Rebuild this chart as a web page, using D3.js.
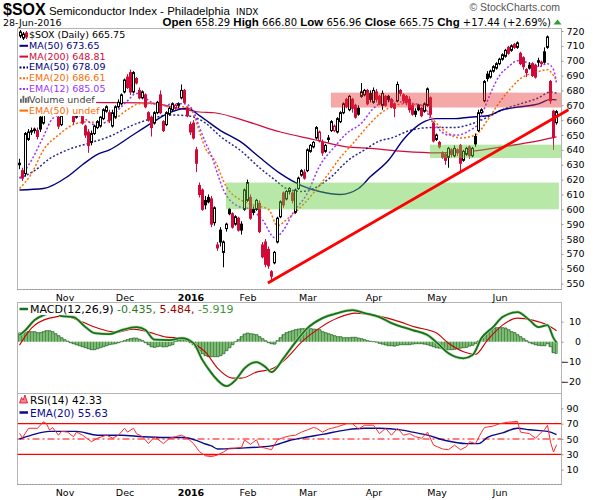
<!DOCTYPE html>
<html>
<head>
<meta charset="utf-8">
<script src="https://cdn.jsdelivr.net/npm/d3@7"></script>
<style>
  body { margin: 0; background: #fff; }
  svg text { font-family: "DejaVu Sans", Verdana, sans-serif; font-size: 9.5px; }
</style>
</head>
<body>
<svg id="chart" width="600" height="500"></svg>
<script>
// ---- data (trading day index 0 = 12-Oct-2015, 179 = 28-Jun-2016) ----
const open = [631,626,624,647,652,653,653,662,658,668, 671,667,671,662,657,666,670,668,663,662,
  668,663,656,652,645,651,655,656,661,666, 665,656,662,669,671,679,689,692,679,688,
  680,675,677,665,662,658,665,677,659,657, 664,667,668,670,675,680,668,657,658,640,
  616,613,606,608,607,591,576,586,571,587, 600,597,590,594,590,600,606,608,600,600,
  604,576,578,573,558,564,578,595,611,607, 612,611,598,614,623,625,626,639,642,648,
  646,645,639,648,653,653,652,659,665,674, 667,674,670,668,676,677,680,678,672,679,
  676,670,676,676,674,671,673,680,677,676, 674,670,666,670,668,666,670,675,658,647,
  645,638,637,635,640,636,640,643,633,637, 642,636,649,653,665,673,691,689,693,695,
  698,701,703,709,707,711,709,705,702,694, 697,698,697,700,699,706,709,686,666,658.29];
const high = [634,628,652,654,655,655,655,664,670,674, 673,674,673,666,665,672,674,671,665,670,
  672,665,657,654,653,657,660,663,668,670, 667,667,670,674,678,688,691,694,693,689,
  682,680,678,666,663,666,673,680,660,666, 669,672,671,672,684,681,669,659,660,642,
  618,614,609,610,609,602,578,588,579,591, 601,598,596,595,592,614,620,610,602,607,
  606,578,580,575,559,572,595,606,612,613, 615,612,614,622,627,627,641,644,646,656,
  653,647,644,650,660,657,662,666,672,675, 677,675,671,670,685,681,681,680,682,681,
  677,680,677,677,675,672,686,681,678,677, 676,671,668,671,669,672,682,676,659,651,
  646,639,638,642,641,643,641,644,640,642, 643,642,651,667,668,687,693,694,697,699,
  702,705,708,710,711,712,713,706,703,695, 699,699,698,702,700,709,717,687,667,666.80];
const low = [627,619,622,646,650,651,647,652,657,666, 665,666,665,654,656,665,666,665,657,661,
  665,657,648,638,643,650,654,655,660,665, 658,655,661,668,670,678,681,677,678,684,
  674,674,668,659,649,657,664,664,652,656, 663,666,667,668,674,671,662,650,647,625,
  608,599,600,604,588,589,572,575,561,585, 596,587,589,585,583,599,605,593,596,599,
  584,567,561,560,552,563,577,594,601,606, 610,604,597,613,622,620,625,638,641,647,
  645,636,638,645,652,652,651,658,664,668, 666,665,661,663,675,676,670,672,671,672,
  670,667,669,672,668,662,672,676,671,670, 665,663,662,666,662,665,669,662,645,646,
  641,634,630,628,635,635,636,625,632,636, 634,635,642,652,664,672,686,688,692,694,
  697,700,702,704,706,708,708,697,694,689, 694,689,688,696,696,698,708,671,640,656.96];
const close = [630,621,651,652,653,654,649,654,668,672, 667,672,668,656,663,670,667,669,659,668,
  670,658,650,643,651,656,659,662,667,669, 660,665,669,672,677,687,682,679,692,685,
  675,679,669,660,655,665,672,665,653,665, 668,671,670,671,680,672,663,652,648,631,
  610,600,603,605,590,601,574,578,578,590, 597,588,595,586,586,613,618,594,598,606,
  585,568,563,562,555,571,594,605,603,612, 614,606,613,621,626,621,640,643,645,655,
  652,638,643,647,659,656,661,665,671,669, 676,668,662,664,679,680,671,674,680,674,
  671,678,670,674,669,668,684,678,673,672, 667,664,664,667,663,671,681,664,646,650,
  642,635,633,641,637,641,638,631,639,641, 636,641,644,665,667,686,688,693,696,698,
  701,704,707,705,710,709,712,698,696,692, 695,690,689,699,698,699,716,673,648.31,665.75];

// overlays, [day index, value]
const ma50 = [[0,613],[8,614],[16,622],[21,630],[26,637],[30,640],[37,649],[44,658],[50,665],[56,668],
  [60,663],[67,653],[74,645],[80,635],[87,624],[94,616],[100,612],[107,610],[113,614],[117,622],
  [123,633],[128,647],[134,658],[139,661],[145,661],[150,662],[156,663],[161,667],[167,669],[173,671],
  [177,674],[179,673.65]];
const ma200 = [[0,673],[12,673],[24,672],[44,671.5],[53,668],[60,665.5],[65,665],[76,659],[87,652],
  [98,647],[109,642],[117,641],[128,639],[139,638],[150,639],[161,642],[170,645],[179,648.81]];
const ema50 = [[0,621],[5,626],[10,634],[16,640],[24,645],[30,649],[37,656],[44,661],[50,663.5],
  [56,663],[62,658],[67,649],[74,639],[80,628],[85,620],[89,614],[94,612],[98,614],[104,622],
  [109,632],[115,640],[120,646],[124,648],[130,653],[137,655],[144,655],[150,657],[155,661],
  [161,667],[167,671],[173,675],[177,679],[179,678.09]];
const ema20 = [[0,614],[4,624],[8,640],[13,650],[18,657],[23,659],[27,658],[31,660],[36,667],[40,671],
  [46,671],[50,669],[56,669],[58,664],[60,652],[62,641],[65,633],[69,615],[74,606],[78,603],
  [83,600],[86,589],[89,593],[94,602],[98,611],[103,624],[107,635],[111,644],[117,658],[120,664],
  [123,668],[128,671],[134,670],[138,660],[143,651],[147,648],[152,650],[156,660],[160,672],
  [164,682],[167,688],[172,692],[176,694],[178,690],[179,686.61]];
const ema12 = [[0,621],[4,633],[8,649],[11,661],[16,665],[21,662],[25,657],[28,658],[33,667],[36,673],
  [39,678],[44,672],[47,669],[51,671],[55,671],[58,666],[60,655],[62,645],[64,636],[66,624],
  [68,613],[73,602],[77,600],[81,593],[85,581],[88,586],[91,597],[96,611],[100,629],[105,642],
  [109,651],[114,658],[118,668],[123,673],[128,672],[134,670],[138,658],[143,650],[146,650],
  [150,653],[153,658],[155,668],[157,678],[160,690],[163,696],[166,700],[169,699],[173,696],
  [176,698],[178,694],[179,685.05]];

// annotations drawn on the price panel: [day index, price]
const trendLine = [[82.8,550.4],[183,667]];
const resistBand = { from: 103.8, to: 180.5, lo: 668.5, hi: 678.5 };
const supportBands = [
  { from: 68.8, to: 179.8, lo: 600, hi: 618 },
  { from: 136.8, to: 180.5, lo: 634.5, hi: 643.5 }
];

const macd = [[0,3.3],[2,5.8],[5,10.8],[8,13.3],[11,14.5],[13,13.8],[14,12.8],[18,12.3],[22,7.3],
  [25,4.3],[30,3.8],[34,5.8],[39,7.3],[42,5.8],[45,1.0],[50,0.8],[54,1.8],[58,-0.7],[61,-9.2],
  [64,-15.7],[65,-17.6],[69,-22.2],[72,-19.2],[75,-13.3],[79,-10.2],[82,-12.7],[84,-15.2],
  [88,-8.3],[92,-0.2],[96,6.8],[101,11.8],[106,14.3],[111,15.8],[115,14.3],[120,12.3],[124,9.3],
  [131,5.8],[136,3.3],[140,-1.7],[143,-5.8],[148,-8.3],[151,-6.7],[154,1.8],[158,7.5],[161,12.3],
  [166,14.8],[170,10.8],[173,7.3],[176,8.3],[178,1.8],[179,-0.435]];
const signal = [[0,-1.7],[4,6.8],[10,11.8],[15,12.8],[21,9.8],[26,6.8],[32,4.8],[38,6.3],[43,4.8],
  [49,2.3],[54,1.8],[59,-1.7],[62,-5.2],[66,-13.2],[71,-18.2],[74,-18.2],[79,-15.2],[84,-13.7],
  [89,-8.3],[94,-0.2],[100,6.8],[106,11.8],[112,14.3],[118,13.3],[125,10.8],[132,7.3],[139,4.3],
  [143,-0.8],[148,-5],[152,-6.3],[156,0.8],[161,8.3],[166,11.8],[171,10.8],[176,8.3],[179,5.484]];
const hist = [4.5,4.5,4.5,5,5,5,4.5,4.5,5,5.5, 5.5,5,4,3,2,1,0.3,-0.5,-1,-1.5,
  -2,-2.5,-3,-3.5,-4,-4,-3.5,-3,-2.5,-2, -1.5,-1.2,-1,-0.5,0,0.5,1,1.5,1.8,1.8,
  1.2,0.5,-0.5,-1.5,-2.5,-2.8,-2.5,-2.2,-2.6,-2.5, -2,-1.5,0.3,0.8,1,1,0.5,-0.5,-1.5,-3,
  -4.5,-6,-7,-7.5,-7.5,-7.5,-7.5,-7,-6,-4.5, -3,-1.5,0,1,2.5,3.8,4.3,4,3.8,3.5,
  2.5,1.5,0.5,-0.5,-1,-1.2,0.5,2,3.5,4.5, 5,5.5,6,6.3,6.5,6.5,6.5,6.5,6.3,6.2,
  6,5,4.5,4,3.5,3,2.5,2.5,2,2, 2,2.2,2.2,1.8,1.5,1,0.5,0.2,0,-0.2,
  -0.8,-1.2,-1.6,-2,-2,-2.2,-1.8,-1.5,-1.5,-1.5, -1.5,-1.2,-1,-1,-1,-1.2,-1.5,-2,-2.5,-3,
  -3.2,-3.5,-3.8,-4,-4,-3.8,-3.5,-3.2,-3,-2.8, -2.2,-1.8,-1,0.3,1.5,3,4.5,5.5,6.5,7,
  7,7,6.8,6,5,4.5,3.5,2.5,1.5,0.5, -0.5,-1,-1.5,-1.8,-2,-2,-1,-2.5,-5.5,-5.919];

const rsi = [[0,57.4],[1,51.7],[3,64],[6,64],[8,72.6],[9,70],[10,61.7],[11,65],[13,55],[14,60],[16,59],
  [18,53],[19,59],[21,55],[24,46.5],[26,51],[29,55],[31,51],[33,55],[35,64],[36,59],[38,64],[39,57],
  [41,53],[43,44],[45,53],[48,44],[50,51],[52,53],[54,55],[56,51],[58,44],[60,33.4],[62,28],[64,27],
  [66,29],[68,33],[70,38],[72,38],[74,39],[75,48.7],[77,43],[79,49],[80,40],[83,37],[84,36],[86,49],
  [88,52],[90,54],[92,55],[94,59],[96,62],[98,65],[99,64],[101,59],[103,63],[104,64],[106,66],
  [109,70],[111,70],[113,63],[115,68],[118,68],[120,57],[122,64],[124,55],[126,64],[128,55],
  [130,57],[132,53],[134,51],[136,59],[138,42],[141,37],[143,36],[145,42],[147,36],[149,40],
  [150,46.5],[152,44],[154,59],[155,65],[158,67],[160,70],[163,72],[166,73],[167,59],[170,57],
  [172,51],[174,59],[175,62],[176,68],[177,46],[178,33],[179,42.33]];
const rsiEma = [[0,50],[4,55],[10,60],[19,60],[26,55],[34,55],[41,53],[49,52],[55,52],[60,46.5],
  [62,43.5],[64,41],[66,37],[73,38],[84,41],[90,48],[95,52],[101,56],[109,62],[115,64],[120,64],
  [127,62],[131,59],[136,55],[142,48],[149,44],[153,44],[156,52],[161,58],[166,64],[170,62],
  [176,60],[179,55.63]];

const monthLabels = ["Nov","Dec","2016","Feb","Mar","Apr","May","Jun"];
const monthStart = [15,35,57,76,96,118,139,160];
const priceTicks = d3.range(550, 721, 10);
const macdTicks = [10, 0, -10, -20];
const rsiTicks = [90, 70, 50, 30, 10];

// ---- layout ----
const svg = d3.select("#chart");
const L = 17.5, R = 561.5;
const P = { top: 28.5, bottom: 289.5 };
const M = { top: 302.5, bottom: 393.5 };
const S = { top: 393.5, bottom: 484.5 };

const x = d3.scaleLinear().domain([0, 179]).range([19.5, 556.5]);
const yP = d3.scaleLinear().domain([550, 720]).range([283.6, 31]);
const yM = d3.scaleLinear().domain([-20, 10]).range([381.7, 321.7]);
const yR = d3.scaleLinear().domain([10, 90]).range([469.6, 408.4]);

const RED = "#d10a3a", NAVY = "#000080", ORANGE = "#ff6a00", PURPLE = "#9933ff";

const defs = svg.append("defs");
function clip(id, y0, y1) {
  defs.append("clipPath").attr("id", id).append("rect")
    .attr("x", L).attr("y", y0).attr("width", R - L).attr("height", y1 - y0);
}
clip("cp", P.top, P.bottom); clip("cm", M.top, M.bottom); clip("cr", S.top, S.bottom);

// ---- header ----
const title = svg.append("text").attr("x", 3).attr("y", 15);
title.append("tspan").style("font-family", "Liberation Sans, Arial").style("font-weight", "bold")
  .style("font-size", "16px").text("$SOX");
title.append("tspan").style("font-family", "Liberation Sans, Arial").style("font-size", "11.5px")
  .text(" Semiconductor Index - Philadelphia ");
title.append("tspan").style("font-size", "9px").attr("dx", 3).text("INDX");

svg.append("text").attr("x", 560).attr("y", 11).attr("text-anchor", "end")
  .style("font-family", "Liberation Sans, Arial").style("font-size", "10.5px").attr("fill", "#555")
  .text("\u00A9 StockCharts.com");

svg.append("text").attr("x", 3).attr("y", 26).text("28-Jun-2016");

const quote = svg.append("text").attr("x", 551).attr("y", 26).attr("text-anchor", "end");
[["Open", " 658.29 "], ["High", " 666.80 "], ["Low", " 656.96 "], ["Close", " 665.75 "], ["Chg", " +17.44 (+2.69%)"]]
  .forEach(([k, v]) => {
    quote.append("tspan").style("font-family", "Liberation Sans, Arial").style("font-weight", "bold")
      .style("font-size", "11.5px").text(k);
    quote.append("tspan").style("font-size", "10px").text(v);
  });
svg.append("path").attr("d", "M553.5,24.5 L557.5,19.5 L561.5,24.5 Z").attr("fill", "#2e9e2e");

// ---- panel frames ----
[[P.top, P.bottom], [M.top, M.bottom], [S.top, S.bottom]].forEach(([t, b]) => {
  svg.append("rect").attr("x", L).attr("y", t).attr("width", R - L).attr("height", b - t)
    .attr("fill", "none").attr("stroke", "#b4b4b4");
});
svg.append("line").attr("x1", L).attr("x2", R).attr("y1", P.bottom).attr("y2", P.bottom)
  .attr("stroke", "#888").attr("stroke-dasharray", "1,2");
svg.append("line").attr("x1", L).attr("x2", R).attr("y1", S.bottom).attr("y2", S.bottom)
  .attr("stroke", "#888").attr("stroke-dasharray", "1,2");

// ---- price panel ----
const gp = svg.append("g").attr("clip-path", "url(#cp)");
const line = (ys, curve) => d3.line().x(d => x(d[0])).y(d => ys(d[1])).curve(curve || d3.curveMonotoneX);

gp.append("path").datum(ma200).attr("d", line(yP)).attr("fill", "none").attr("stroke", RED).attr("stroke-width", 1.2);
gp.append("path").datum(ma50).attr("d", line(yP)).attr("fill", "none").attr("stroke", NAVY).attr("stroke-width", 1.4);
gp.append("path").datum(ema50).attr("d", line(yP)).attr("fill", "none").attr("stroke", NAVY)
  .attr("stroke-width", 1.5).attr("stroke-dasharray", "2,2").attr("opacity", 0.85);
gp.append("path").datum(ema20).attr("d", line(yP)).attr("fill", "none").attr("stroke", ORANGE)
  .attr("stroke-width", 1.5).attr("stroke-dasharray", "2,2");
gp.append("path").datum(ema12).attr("d", line(yP)).attr("fill", "none").attr("stroke", PURPLE)
  .attr("stroke-width", 1.5).attr("stroke-dasharray", "2,2");

const candles = close.map((c, i) => ({
  i, o: open[i], h: high[i], l: low[i], c,
  col: (i === 0 || c >= close[i - 1]) ? "#000" : RED
}));
const cg = gp.selectAll("g.candle").data(candles).enter().append("g").attr("class", "candle");
cg.append("line")
  .attr("x1", d => x(d.i)).attr("x2", d => x(d.i))
  .attr("y1", d => yP(d.h)).attr("y2", d => yP(d.l))
  .attr("stroke", d => d.col);
cg.append("rect")
  .attr("x", d => x(d.i) - 1).attr("width", 2)
  .attr("y", d => yP(Math.max(d.o, d.c)))
  .attr("height", d => Math.max(1, yP(Math.min(d.o, d.c)) - yP(Math.max(d.o, d.c))))
  .attr("fill", d => d.c > d.o ? "#fff" : d.col)
  .attr("stroke", d => d.col);

// zones sit on top of the candles, translucent
gp.append("rect")
  .attr("x", x(resistBand.from)).attr("width", x(resistBand.to) - x(resistBand.from))
  .attr("y", yP(resistBand.hi)).attr("height", yP(resistBand.lo) - yP(resistBand.hi))
  .attr("fill", "#e83030").attr("opacity", 0.42);
gp.selectAll("rect.sup").data(supportBands).enter().append("rect").attr("class", "sup")
  .attr("x", d => x(d.from)).attr("width", d => x(d.to) - x(d.from))
  .attr("y", d => yP(d.hi)).attr("height", d => yP(d.lo) - yP(d.hi))
  .attr("fill", "#5fcc3c").attr("opacity", 0.45);

svg.append("path").datum(trendLine).attr("d", line(yP, d3.curveLinear))
  .attr("stroke", "#ff0000").attr("stroke-width", 2.8).attr("fill", "none");

// ---- price legend ----
function legendRow(y, icon, parts) {
  const row = svg.append("g");
  const bg = row.append("rect").attr("fill", "#fff");
  icon(row, y);
  const t = row.append("text").attr("x", 29).attr("y", y);
  parts.forEach(p => t.append("tspan").attr("fill", p[1]).text(p[0]));
  const w = t.node().getComputedTextLength();
  bg.attr("x", L + 0.5).attr("y", y - 8.5).attr("width", 29 + w - L + 1).attr("height", 11);
}
const dash = (col, dotted) => (g, y) => g.append("line").attr("x1", 19.5).attr("x2", 28)
  .attr("y1", y - 3).attr("y2", y - 3).attr("stroke", col).attr("stroke-width", 2)
  .attr("stroke-dasharray", dotted ? "2,1.5" : null);
const candleIcon = (g, y) => {
  [[20.5, 0, "#000"], [23.5, 2, "#000"], [26.5, 1, RED]].forEach(([cx, o, col]) => {
    g.append("line").attr("x1", cx).attr("x2", cx).attr("y1", y - 8 + o).attr("y2", y + o)
      .attr("stroke", col);
    g.append("rect").attr("x", cx - 1).attr("y", y - 6 + o).attr("width", 2).attr("height", 4)
      .attr("fill", col === RED ? RED : "#fff").attr("stroke", col);
  });
};
const volIcon = (g, y) => {
  [[20, 4], [22.5, 7], [25, 5], [27.5, 6]].forEach(([bx, h]) =>
    g.append("rect").attr("x", bx).attr("y", y - h).attr("width", 1.8).attr("height", h).attr("fill", "#666"));
};
const ly = 38;
legendRow(ly, candleIcon, [["$SOX (Daily) 665.75", "#000"]]);
legendRow(ly + 10.8, dash(NAVY), [["MA(50) 673.65", NAVY]]);
legendRow(ly + 21.6, dash(RED), [["MA(200) 648.81", RED]]);
legendRow(ly + 32.4, dash(NAVY, true), [["EMA(50) 678.09", NAVY]]);
legendRow(ly + 43.2, dash(ORANGE, true), [["EMA(20) 686.61", ORANGE]]);
legendRow(ly + 54, dash(PURPLE, true), [["EMA(12) 685.05", PURPLE]]);
legendRow(ly + 64.8, volIcon, [["Volume undef", "#444"]]);
legendRow(ly + 75.6, dash(ORANGE), [["EMA(50) undef", ORANGE]]);

// ---- MACD panel ----
const gm = svg.append("g").attr("clip-path", "url(#cm)");
gm.selectAll("rect.h").data(hist).enter().append("rect").attr("class", "h")
  .attr("x", (d, i) => x(i) - 1.5).attr("width", 3)
  .attr("y", d => Math.min(yM(d), yM(0)))
  .attr("height", d => Math.abs(yM(d) - yM(0)))
  .attr("fill", "#7cba76");
gm.selectAll("line.h").data(hist).enter().append("line").attr("class", "h")
  .attr("x1", (d, i) => x(i) - 1).attr("x2", (d, i) => x(i) - 1)
  .attr("y1", yM(0)).attr("y2", d => yM(d))
  .attr("stroke", "#3d7d38").attr("stroke-width", 0.7);
gm.append("path").datum(hist)
  .attr("d", d3.line().x((d, i) => x(i)).y(d => yM(d)).curve(d3.curveStep))
  .attr("fill", "none").attr("stroke", "#2e6e2e").attr("stroke-width", 0.8);
gm.append("path").datum(signal).attr("d", line(yM)).attr("fill", "none")
  .attr("stroke", "#cc0000").attr("stroke-width", 1.1);
gm.append("path").datum(macd).attr("d", line(yM)).attr("fill", "none")
  .attr("stroke", "#b8e0b0").attr("stroke-width", 3);
gm.append("path").datum(macd).attr("d", line(yM)).attr("fill", "none")
  .attr("stroke", "#17701a").attr("stroke-width", 1.8);

const LOWFONT = "10.5px";
const ml = svg.append("g");
const mlbg = ml.append("rect").attr("fill", "#fff");
ml.append("line").attr("x1", 19.5).attr("x2", 28).attr("y1", 309).attr("y2", 309)
  .attr("stroke", "#17701a").attr("stroke-width", 2.5);
const mt = ml.append("text").attr("x", 30).attr("y", 313).style("font-size", "11px");
[["MACD(12,26,9)", "#000"], [" -0.435,", "#2a7a2a"], [" 5.484,", "#a00000"], [" -5.919", "#3c963c"]]
  .forEach(p => mt.append("tspan").attr("fill", p[1]).text(p[0]));
mlbg.attr("x", L + 0.5).attr("y", 303.5).attr("width", 30 + mt.node().getComputedTextLength() - L)
  .attr("height", 11.5);

// ---- RSI panel ----
const gr = svg.append("g").attr("clip-path", "url(#cr)");
defs.append("clipPath").attr("id", "above70").append("rect")
  .attr("x", L).attr("y", S.top).attr("width", R - L).attr("height", yR(70) - S.top);
defs.append("clipPath").attr("id", "below30").append("rect")
  .attr("x", L).attr("y", yR(30)).attr("width", R - L).attr("height", S.bottom - yR(30));
gr.append("path").datum(rsi).attr("clip-path", "url(#above70)")
  .attr("d", d3.area().x(d => x(d[0])).y0(yR(70)).y1(d => yR(d[1])))
  .attr("fill", "#ff9c9c");
gr.append("path").datum(rsi).attr("clip-path", "url(#below30)")
  .attr("d", d3.area().x(d => x(d[0])).y0(yR(30)).y1(d => yR(d[1])))
  .attr("fill", "#ff9c9c");
[70, 30].forEach(v => gr.append("line").attr("x1", L).attr("x2", R)
  .attr("y1", yR(v)).attr("y2", yR(v)).attr("stroke", "#ff0000").attr("stroke-width", 1.2));
gr.append("line").attr("x1", L).attr("x2", R).attr("y1", yR(50)).attr("y2", yR(50))
  .attr("stroke", "#ff0000").attr("stroke-dasharray", "7,3,2,3");
gr.append("path").datum(rsiEma).attr("d", line(yR)).attr("fill", "none")
  .attr("stroke", "#0a0a90").attr("stroke-width", 1.4);
gr.append("path").datum(rsi).attr("d", line(yR, d3.curveLinear)).attr("fill", "none")
  .attr("stroke", "#ff2a2a").attr("stroke-width", 1);

const rl = svg.append("g");
rl.append("path").attr("d", "M19.5,403 L21.5,397.5 L23,400 L25,395 L27.5,403 Z")
  .attr("fill", "#ff8080").attr("stroke", RED).attr("stroke-width", 0.8);
rl.append("text").attr("x", 30).attr("y", 403.5).style("font-size", LOWFONT).text("RSI(14) 42.33");
rl.append("line").attr("x1", 19.5).attr("x2", 28).attr("y1", 412.5).attr("y2", 412.5)
  .attr("stroke", "#0a0a90").attr("stroke-width", 2.5);
rl.append("text").attr("x", 30).attr("y", 416.5).style("font-size", LOWFONT)
  .attr("fill", "#0a0a90").text("EMA(20) 55.63");

// ---- axes ----
function rightAxis(scale, ticks, fmt, anchorEnd) {
  const g = svg.append("g").attr("transform", `translate(${R},0)`)
    .call(d3.axisRight(scale).tickValues(ticks).tickSize(2).tickPadding(3).tickFormat(fmt));
  g.select(".domain").remove();
  g.selectAll("line").attr("stroke", "#999");
  g.selectAll("text").style("font-family", "DejaVu Sans, Verdana, sans-serif").style("font-size", "9.5px");
  if (anchorEnd) g.selectAll("text").attr("text-anchor", "end").attr("x", anchorEnd - R);
}
rightAxis(yP, priceTicks, d3.format("d"));
rightAxis(yM, macdTicks, d3.format("d"), 581);
rightAxis(yR, rsiTicks, d3.format("d"));

function monthAxis(y) {
  const g = svg.append("g").attr("transform", `translate(0,${y})`)
    .call(d3.axisBottom(x).tickValues(monthStart).tickSize(0).tickPadding(3)
      .tickFormat((d, i) => monthLabels[i]));
  g.select(".domain").remove();
  g.selectAll("text").style("font-family", "DejaVu Sans, Verdana, sans-serif").style("font-size", "9.5px")
    .style("font-weight", (d, i) => monthLabels[i] === "2016" ? "bold" : "normal");
}
monthAxis(291);
monthAxis(486);
</script>
</body>
</html>
